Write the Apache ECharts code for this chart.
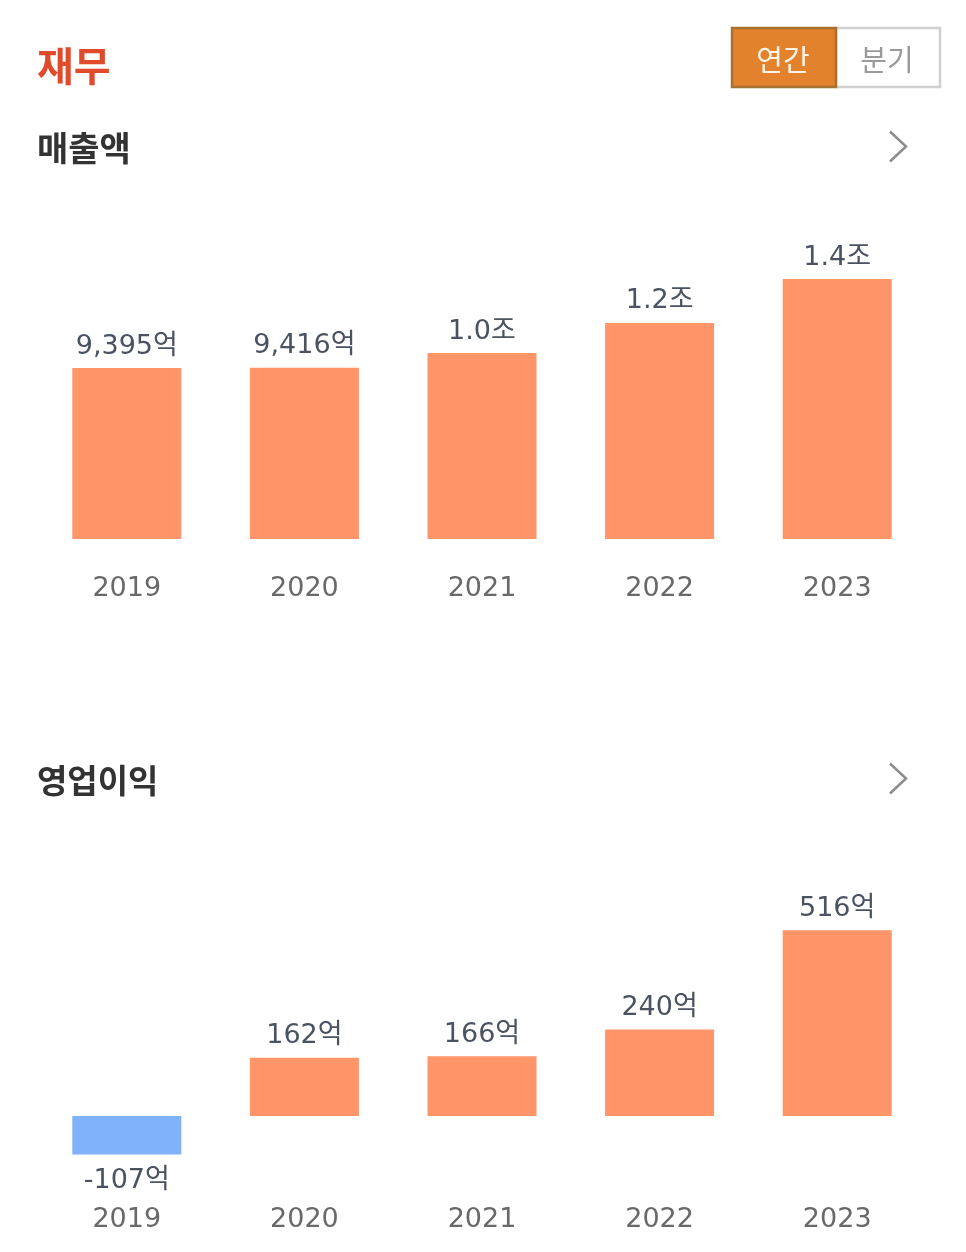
<!DOCTYPE html>
<html>
<head>
    <meta charset="utf-8">
    <title>재무</title>
    <script src="https://cdn.jsdelivr.net/npm/echarts@6/dist/echarts.min.js"></script>
    <style type="text/css">
        * {
            margin: 0;
            padding: 0;
        }
        body {
            background: #fff;
        }
    </style>
</head>
<body>
<div id="main" style="width: 966px; height: 1252px;"></div>
<script type="text/javascript">
    var years = ['2019', '2020', '2021', '2022', '2023'];

    // 매출액 (억) - the 조 values are estimated from bar heights
    var salesValues = [9395, 9416, 10220, 11870, 14280];
    var salesLabels = ['9,395억', '9,416억', '1.0조', '1.2조', '1.4조'];

    // 영업이익 (억)
    var profitValues = [-107, 162, 166, 240, 516];
    var profitLabels = ['-107억', '162억', '166억', '240억', '516억'];

    var latinFont = '"DejaVu Sans", "Noto Sans CJK KR", sans-serif';
    var koreanFont = '"Noto Sans CJK KR", sans-serif';
    var barColor = '#ff9568';
    var negativeColor = '#80b2fc';

    function barSeries(index, values, labels) {
        return {
            type: 'bar',
            xAxisIndex: index,
            yAxisIndex: index,
            barWidth: 109,
            silent: true,
            data: values.map(function (v, i) {
                return {
                    value: v,
                    itemStyle: { color: v < 0 ? negativeColor : barColor },
                    label: {
                        show: true,
                        position: v < 0 ? 'bottom' : 'top',
                        distance: v < 0 ? 13 : 8,
                        formatter: labels[i],
                        fontFamily: latinFont,
                        fontSize: 27,
                        color: '#4b5361'
                    }
                };
            })
        };
    }

    function yearAxis(gridIndex, margin) {
        return {
            type: 'category',
            gridIndex: gridIndex,
            data: years,
            position: 'bottom',
            axisLine: { show: false, onZero: false },
            axisTick: { show: false },
            axisLabel: {
                margin: margin,
                fontFamily: latinFont,
                fontSize: 27,
                color: '#696969'
            }
        };
    }

    function heading(text, x, y, size, color) {
        return {
            type: 'text',
            x: x,
            y: y,
            style: {
                text: text,
                fontFamily: koreanFont,
                fontWeight: 'bold',
                fontSize: size,
                fill: color,
                verticalAlign: 'middle'
            }
        };
    }

    function chevron(y) {
        return {
            type: 'polyline',
            shape: { points: [[890, y - 15], [906, y], [890, y + 15]] },
            style: { stroke: '#8c8c8c', lineWidth: 2.5, fill: null }
        };
    }

    function toggleText(text, x, color) {
        return {
            type: 'text',
            x: x,
            y: 60,
            style: {
                text: text,
                fontFamily: koreanFont,
                fontSize: 29,
                fontWeight: 400,
                fill: color,
                align: 'center',
                verticalAlign: 'middle'
            }
        };
    }

    var myChart = echarts.init(document.getElementById('main'));

    var option = {
        animation: false,
        backgroundColor: '#ffffff',
        grid: [
            { left: 38, width: 888, top: 266, height: 273 },
            { left: 38, width: 888, top: 918, height: 270 }
        ],
        xAxis: [yearAxis(0, 36), yearAxis(1, 18)],
        yAxis: [
            { type: 'value', gridIndex: 0, min: 0, max: 15000, show: false },
            { type: 'value', gridIndex: 1, min: -200, max: 550, show: false }
        ],
        series: [
            barSeries(0, salesValues, salesLabels),
            barSeries(1, profitValues, profitLabels)
        ],
        graphic: [
            heading('재무', 37, 66, 40, '#e14b2c'),
            heading('매출액', 37, 148, 34, '#333333'),
            heading('영업이익', 37, 780, 33, '#333333'),
            chevron(146.5),
            chevron(778.5),
            {
                type: 'rect',
                shape: { x: 836, y: 28, width: 104, height: 59 },
                style: { fill: '#ffffff', stroke: '#d0d0d0', lineWidth: 2.5 }
            },
            {
                type: 'rect',
                shape: { x: 732, y: 28, width: 104, height: 59 },
                style: { fill: '#e2822c', stroke: '#a9712f', lineWidth: 2.5 }
            },
            toggleText('연간', 783, '#fdf3e6'),
            toggleText('분기', 887, '#9a9a9a')
        ]
    };

    myChart.setOption(option);
</script>
</body>
</html>
